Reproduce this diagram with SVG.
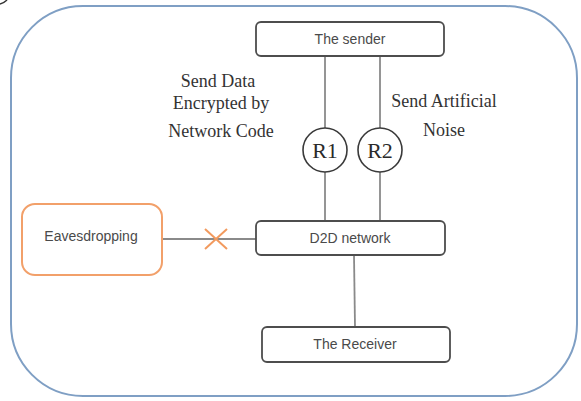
<svg xmlns="http://www.w3.org/2000/svg" width="581" height="401" viewBox="0 0 581 401">
  <style>
    .box { fill: #ffffff; stroke: #4d4d4d; stroke-width: 1.8; }
    .relay { fill: #ffffff; stroke: #3a3a3a; stroke-width: 1.6; }
    .link { stroke: #8a8a8a; stroke-width: 1.8; fill: none; }
    .label { font-family: "Liberation Sans", Arial, sans-serif; font-size: 14px; fill: #4a4a4a; text-anchor: middle; }
    .note { font-family: "Liberation Serif", "Times New Roman", serif; font-size: 18px; fill: #333333; text-anchor: middle; }
    .rtext { font-family: "Liberation Serif", "Times New Roman", serif; font-size: 22px; fill: #2a2a2a; text-anchor: middle; }
  </style>

  <rect width="581" height="401" fill="#ffffff"/>

  <!-- corner fragment -->
  <path d="M0,4 Q4,3 7,0" fill="none" stroke="#333" stroke-width="1.5"/>

  <!-- outer boundary -->
  <rect x="11" y="6" width="566" height="390" rx="72" ry="72" fill="none" stroke="#7f9fc4" stroke-width="2"/>

  <!-- connectors -->
  <g id="connectors">
    <line class="link" x1="325" y1="56" x2="325" y2="128"/>
    <line class="link" x1="380" y1="56" x2="380" y2="128"/>
    <line class="link" x1="325" y1="172" x2="325" y2="221"/>
    <line class="link" x1="380" y1="172" x2="380" y2="221"/>
    <line class="link" x1="354" y1="255" x2="355" y2="327"/>
    <line class="link" x1="162" y1="239" x2="256" y2="239"/>
    <path d="M205,229 L227,249 M227,229 L205,249" fill="none" stroke="#f29a5e" stroke-width="2"/>
  </g>

  <g id="sender">
    <rect class="box" x="256" y="22" width="188" height="34" rx="5"/>
    <text class="label" x="350" y="44">The sender</text>
  </g>

  <g id="r1">
    <circle class="relay" cx="325" cy="150" r="22"/>
    <text class="rtext" x="325" y="158">R1</text>
  </g>

  <g id="r2">
    <circle class="relay" cx="380" cy="150" r="22"/>
    <text class="rtext" x="380" y="158">R2</text>
  </g>

  <g id="d2d">
    <rect class="box" x="256" y="221" width="189" height="34" rx="5"/>
    <text class="label" x="350" y="243">D2D network</text>
  </g>

  <g id="receiver">
    <rect class="box" x="262" y="327" width="188" height="35" rx="5"/>
    <text class="label" x="355" y="349">The Receiver</text>
  </g>

  <g id="eavesdropping">
    <rect x="22" y="204" width="140" height="71" rx="13" fill="#ffffff" stroke="#f2a06a" stroke-width="2"/>
    <text class="label" x="91" y="241">Eavesdropping</text>
  </g>

  <g id="notes">
    <text class="note" x="218" y="87">Send Data</text>
    <text class="note" x="221" y="109">Encrypted by</text>
    <text class="note" x="221" y="137">Network Code</text>
    <text class="note" x="444" y="107">Send Artificial</text>
    <text class="note" x="444" y="136">Noise</text>
  </g>
</svg>
